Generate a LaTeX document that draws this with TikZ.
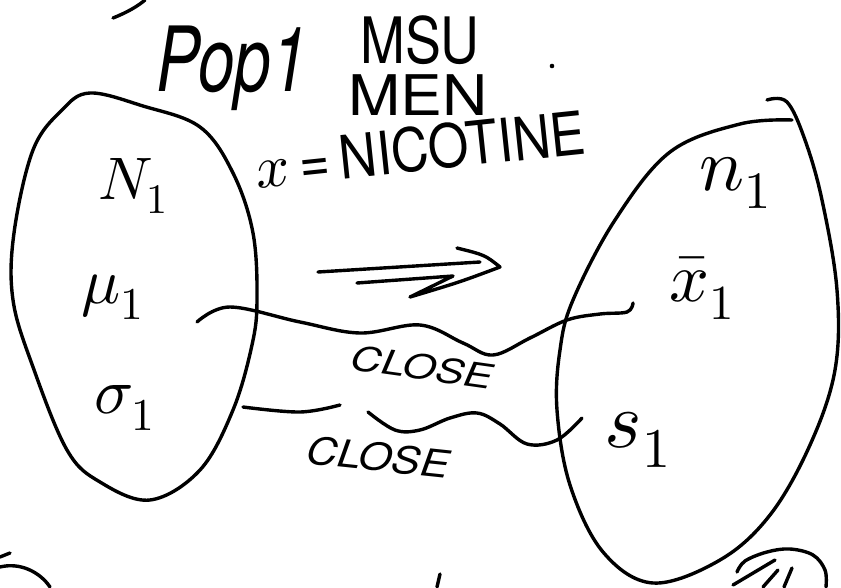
\documentclass[tikz,border=0pt]{standalone}
\usepackage{fontspec}
\usepackage{unicode-math}
\setsansfont{TeX Gyre Heros}
\newfontfamily\popfont[FakeStretch=0.73]{TeX Gyre Heros}
\newfontfamily\msufont[FakeStretch=0.84]{TeX Gyre Heros}
\newfontfamily\menfont[FakeStretch=1.12]{TeX Gyre Heros}
\newfontfamily\varfont[FakeStretch=0.87]{TeX Gyre Heros}
\newfontfamily\closefontA[FakeStretch=1.26]{TeX Gyre Heros}
\newfontfamily\closefontB[FakeStretch=1.13]{TeX Gyre Heros}
\newcommand{\fsz}[1]{\fontsize{#1}{#1}\selectfont}
\begin{document}
\begin{tikzpicture}[x=1pt,y=-1pt,
  pen/.style={line width=3.4pt, line cap=round, line join=round},
  lab/.style={inner sep=0pt}]
\useasboundingbox (0,0) rectangle (841,587);
\fill[white] (0,0) rectangle (841,587);

% population ellipse (left)
\draw[pen] plot[smooth cycle, tension=0.6] coordinates {
  (90,93) (143,106) (200,127) (233,173) (253,233) (257,300) (252,345)
  (233,410) (200,470) (150,500) (100,482) (67,450) (33,367) (13,300)
  (14,233) (33,150) (62,110)};

% sample ellipse (right)
\draw[pen] plot[smooth, tension=0.6] coordinates {
  (767,100) (787,102) (805,140) (822,200) (837,290) (835,370) (810,445)
  (770,515) (720,560) (653,583) (603,552) (570,485) (557,410) (560,350)
  (573,300) (615,220) (670,152) (740,124) (792,120)};

% headings
\node[lab] (pop) at (232,68) {\popfont\itshape\fsz{90}Pop1};
\node[lab] (msu) at (420,40) {\msufont\fsz{64}MSU};
\node[lab] (men) at (418,95) {\menfont\fsz{56}MEN};
\node[lab, rotate=6] (var) at (420,149) {\varfont\fsz{60}$x$\,=\,NICOTINE};
\fill (552,66) circle (2.3pt);

% parameter labels
\node[lab] (N1) at (133,186) {\fsz{60}$N_1$};
\node[lab] (mu1) at (113,297) {\fsz{65}$\mu_1$};
\node[lab] (sig1) at (125,408) {\fsz{65}$\sigma_1$};
\node[lab] (n1) at (735,183) {\fsz{75}$n_1$};
\node[lab] (xb1) at (702,288) {\fsz{70}$\bar{x}_1$};
\node[lab] (s1) at (638,440) {\fsz{80}$s_1$};

% implication arrow
\coordinate (a1) at (318,272);
\coordinate (a2) at (480,262);
\coordinate (a3) at (357,283);
\coordinate (a4) at (453,276);
\coordinate (h1) at (457,248);
\coordinate (tip) at (500,267);
\coordinate (h2) at (410,297);
\draw[pen] (a1) -- (a2);
\draw[pen] (a3) -- (a4) -- (h2) .. controls (460,282) .. (tip) .. controls (485,255) .. (h1);

% wavy connectors
\coordinate (mout) at (197,322);
\coordinate (xin) at (633,303);
\draw[pen] plot[smooth, tension=0.6] coordinates {
  (mout) (230,307) (300,322) (360,333) (420,325) (463,343) (493,355)
  (530,338) (567,320) (600,314) (627,312) (xin)};
\coordinate (sout) at (243,407);
\coordinate (gapl) at (340,405);
\coordinate (gapr) at (368,412);
\coordinate (sin) at (582,418);
\draw[pen] plot[smooth, tension=0.6] coordinates {(sout) (300,412) (gapl)};
\draw[pen] plot[smooth, tension=0.6] coordinates {
  (gapr) (395,430) (420,430) (450,418) (477,413) (500,424) (527,444)
  (557,440) (sin)};

\node[lab, rotate=-8] (close1) at (422,367) {\closefontA\itshape\fsz{34}CLOSE};
\node[lab, rotate=-6] (close2) at (378,457) {\closefontB\itshape\fsz{38}CLOSE};

% cut-off strokes at the edges
\draw[pen] (113,18) .. controls (128,12) and (138,6) .. (145,0);
\draw[pen] (0,557) -- (10,553);
\draw[pen] (0,567) .. controls (20,562) and (40,572) .. (50,587);
\draw[pen] (440,574) -- (437,587);
\draw[pen] plot[smooth, tension=0.6] coordinates {
  (737,572) (745,561) (767,552) (790,549) (813,555) (825,570) (826,587)};
\draw[pen] (775,560) -- (733,585);
\draw[pen] (778,570) -- (763,587);
\draw[pen] (792,568) -- (784,587);
\end{tikzpicture}
\end{document}
